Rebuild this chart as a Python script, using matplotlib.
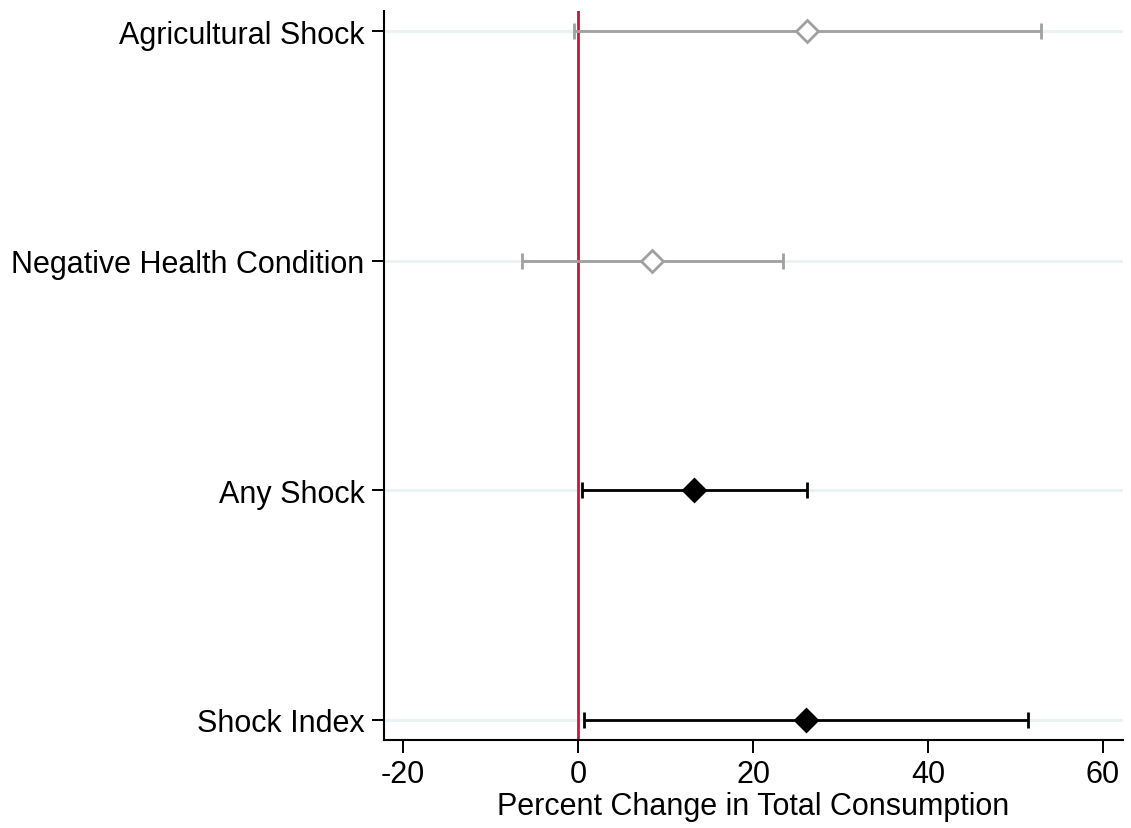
import matplotlib
matplotlib.use("Agg")
import matplotlib.pyplot as plt

# coefficient estimates with 95% CIs (percent change)
labels = ["Agricultural Shock", "Negative Health Condition", "Any Shock", "Shock Index"]
estimates = [26.2, 8.5, 13.3, 26.1]
lower = [-0.5, -6.4, 0.5, 0.7]
upper = [52.9, 23.4, 26.2, 51.4]
significant = [False, False, True, True]
xticks = [-20, 0, 20, 40, 60]

plt.rcParams["font.family"] = ["Liberation Sans", "DejaVu Sans"]

fig = plt.figure(figsize=(11.31, 8.29), dpi=100)
ax = fig.add_axes([0.3395, 0.1062, 0.6534, 0.8793])

ypos = list(range(len(labels), 0, -1))

for y in ypos:
    ax.axhline(y, color="#eaf2f3", lw=2.2, zorder=0)

ax.axvline(0, color="#cc1440", lw=2, zorder=1)

for y, est, lo, hi, sig in zip(ypos, estimates, lower, upper, significant):
    col = "black" if sig else "#a0a0a0"
    ax.errorbar(est, y, xerr=[[est - lo], [hi - est]], fmt="none",
                ecolor=col, elinewidth=2, capsize=5.5, capthick=2, zorder=2)
    ax.plot(est, y, marker="D", ms=11, mew=2, color=col,
            mfc=col if sig else "white", mec=col, zorder=3, linestyle="none")

ax.set_xlim(-22.2, 62.3)
ax.set_ylim(0.913, 4.087)
ax.set_yticks(ypos)
ax.set_yticklabels(labels, fontsize=22)
ax.set_xticks(xticks)
ax.set_xticklabels([str(t) for t in xticks], fontsize=22)
ax.set_xlabel("Percent Change in Total Consumption", fontsize=22, labelpad=1)

ax.spines["top"].set_visible(False)
ax.spines["right"].set_visible(False)
for s in ("left", "bottom"):
    ax.spines[s].set_linewidth(1.5)
ax.tick_params(axis="both", length=9, width=1.4, pad=5)

fig.savefig("out.png", dpi=100)
